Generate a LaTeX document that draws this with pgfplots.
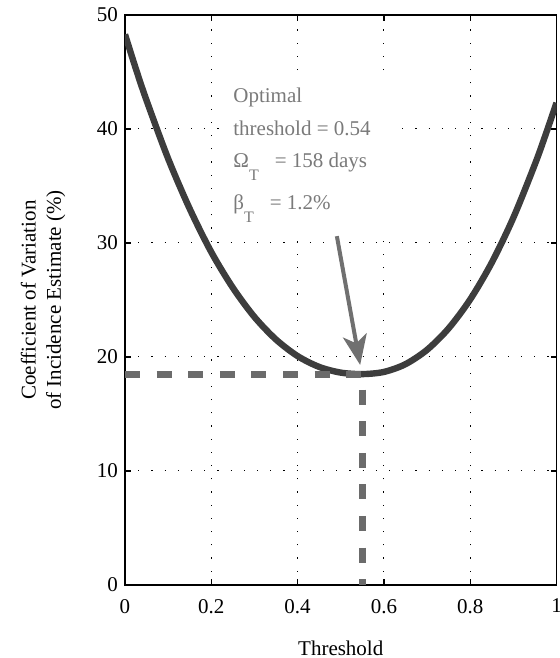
\documentclass[border=0pt]{standalone}
\usepackage{fontspec}
\setmainfont{Liberation Serif}
\usepackage{pgfplots}
\pgfplotsset{compat=1.18}
\usetikzlibrary{arrows.meta}

\definecolor{curvegray}{HTML}{3D3D3D}
\definecolor{dashgray}{HTML}{6B6B6B}
\definecolor{arrowgray}{HTML}{707070}
\definecolor{txtgray}{HTML}{7A7A7A}

\begin{document}
\begin{tikzpicture}[font=\fontsize{10.5}{12.6}\selectfont]
\begin{axis}[
    at={(0,0)}, anchor=south west,
    scale only axis,
    width=215.75pt, height=285pt,
    xmin=0, xmax=1,
    ymin=0, ymax=50,
    xtick={0,0.2,0.4,0.6,0.8,1},
    ytick={0,10,20,30,40,50},
    tick pos=both, tick align=inside,
    major tick length=3pt,
    every tick/.style={black, line width=0.6pt},
    axis line style={line width=0.9pt},
    grid=major,
    major grid style={black, line width=0.5pt, dash pattern=on 0.6pt off 6pt},
    /pgf/number format/assume math mode=true,
    xticklabel style={yshift=-3.5pt},
    xlabel={Threshold},
    xlabel style={at={(axis description cs:0.5,0)}, anchor=center, yshift=-31.5pt},
    ylabel={Coefficient of Variation\\of Incidence Estimate (\%)},
    ylabel style={align=center, at={(axis description cs:-0.19,0.5)}, anchor=center},
]

% CV curve
\addplot[curvegray, line width=3.2pt, smooth] coordinates {
    (0,48.3)(0.025,45.3)(0.05,42.5)(0.1,37.4)(0.15,33.0)(0.2,29.2)
    (0.25,26.07)(0.3,23.51)(0.35,21.53)(0.4,20.08)(0.45,19.13)(0.5,18.63)
    (0.55,18.5)(0.6,18.69)(0.65,19.37)(0.7,20.63)(0.75,22.51)(0.8,25.05)
    (0.85,28.28)(0.9,32.22)(0.95,36.91)(0.975,39.53)(1,42.3)
};

% optimum marker lines
\addplot[dashgray, line width=3.5pt, dash pattern=on 7.5pt off 8.3pt] coordinates {
    (0,18.5)(0.55,18.5)(0.55,0)
};

% white box behind the annotation
\fill[white] (axis cs:0.22,30.76) rectangle (axis cs:0.637,44.8);

\draw[arrowgray, line width=2pt, -{Stealth[length=15pt,width=12pt,inset=4pt]}]
    (axis cs:0.491,30.6) -- (axis cs:0.545,19.3);

\node[anchor=base west, text=txtgray, inner sep=0] at (axis cs:0.2503,42.3) {Optimal};
\node[anchor=base west, text=txtgray, inner sep=0] at (axis cs:0.2503,39.4) {threshold = 0.54};
\node[anchor=base west, text=txtgray, inner sep=0] at (axis cs:0.2503,36.6)
    {Ω\raisebox{-6.5pt}{\fontsize{8}{9.6}\selectfont T}\hspace{8pt}= 158 days};
\node[anchor=base west, text=txtgray, inner sep=0] at (axis cs:0.2503,32.95)
    {β\raisebox{-6.5pt}{\fontsize{8}{9.6}\selectfont T}\hspace{8pt}= 1.2\%};
\end{axis}
\pgfresetboundingbox
\useasboundingbox (-62.5pt,-36.5pt) rectangle (217.5pt,292.5pt);
\end{tikzpicture}
\end{document}
